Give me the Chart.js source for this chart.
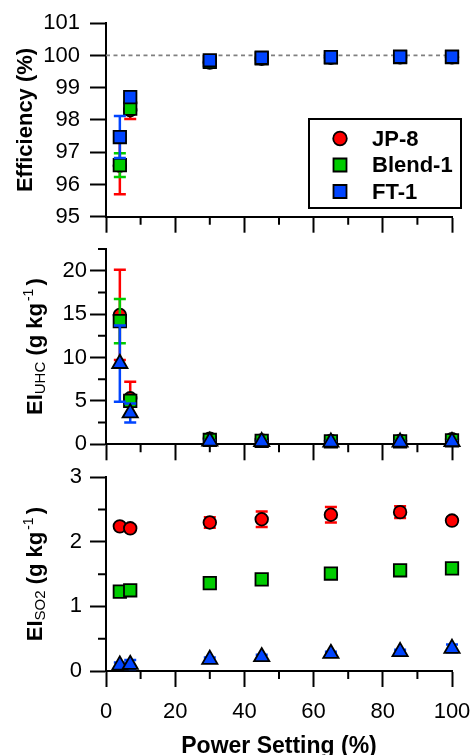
<!DOCTYPE html>
<html>
<head>
<meta charset="utf-8">
<script src="https://cdn.jsdelivr.net/npm/chart.js@4.4.0/dist/chart.umd.min.js"></script>
<style>
    html, body { margin: 0; padding: 0; background: #fff; }
    #wrap { position: relative; width: 473px; height: 755px; overflow: hidden; }
    .panel { position: absolute; left: 0; top: 0; width: 473px; height: 755px; }
</style>
</head>
<body>
<div id="wrap">
    <div class="panel"><canvas id="effChart"></canvas></div>
    <div class="panel"><canvas id="uhcChart"></canvas></div>
    <div class="panel"><canvas id="so2Chart"></canvas></div>
</div>
<script>
const FONT = '"Liberation Sans", Arial, Helvetica, sans-serif';

const powerSetting = [4, 7, 30, 45, 65, 85, 100];
const fuelNames = ["JP-8", "Blend-1", "FT-1"];
const fuelColors = ["#ff0000", "#00cc00", "#0044ff"];

// combustion efficiency (%)
const effJP8 = [96.58, 98.3, 99.78, 99.9, 99.93, 99.94, 99.94];
const effJP8Err = [0.88, 0.27, 0.03, 0.02, 0.02, 0.02, 0.02];
const effBlend = [96.6, 98.35, 99.8, 99.91, 99.94, 99.95, 99.95];
const effBlendErr = [0.37, 0.1, 0.03, 0.02, 0.02, 0.02, 0.02];
const effFT = [97.47, 98.71, 99.85, 99.93, 99.95, 99.96, 99.96];
const effFTErr = [0.65, 0.12, 0.03, 0.02, 0.02, 0.02, 0.02];
const effRefX = [0, 100];
const effRefY = [100, 100];

// EI UHC (g/kg)
const uhcJP8 = [14.9, 5.3, 0.65, 0.45, 0.4, 0.4, 0.6];
const uhcJP8Err = [5.2, 1.9, 0.1, 0.08, 0.08, 0.08, 0.1];
const uhcBlend = [14.2, 5.0, 0.5, 0.4, 0.35, 0.35, 0.45];
const uhcBlendErr = [2.55, 0.4, 0.08, 0.06, 0.06, 0.06, 0.08];
const uhcFT = [9.3, 3.6, 0.35, 0.3, 0.25, 0.25, 0.3];
const uhcFTErr = [4.4, 1.1, 0.06, 0.05, 0.05, 0.05, 0.06];

// EI SO2 (g/kg)
const so2JP8 = [2.24, 2.21, 2.3, 2.35, 2.42, 2.46, 2.33];
const so2JP8Err = [0.04, 0.05, 0.08, 0.12, 0.12, 0.09, 0.05];
const so2Blend = [1.23, 1.25, 1.36, 1.42, 1.51, 1.56, 1.59];
const so2BlendErr = [0.04, 0.03, 0.02, 0.02, 0.02, 0.02, 0.02];
const so2FT = [0.09, 0.1, 0.18, 0.22, 0.27, 0.3, 0.35];
const so2FTErr = [0.04, 0.07, 0.03, 0.03, 0.03, 0.03, 0.06];

// axis ticks
const xMajorStep = 20;
const xMinorTicks = [10, 30, 50, 70, 90];
const effMinorTicks = [];
const uhcMinorTicks = [2.5, 7.5, 12.5, 17.5, 22.5];
const so2MinorTicks = [0.5, 1.5, 2.5];

const BOLD = "bold 22px " + FONT;

function points(xs, ys) {
    return xs.map((x, i) => ({ x: x, y: ys[i] }));
}

function series(i, ys, errs, style, radius) {
    return {
        label: fuelNames[i],
        data: points(powerSetting, ys),
        errors: errs,
        errorColor: fuelColors[i],
        backgroundColor: fuelColors[i],
        borderColor: "#000",
        borderWidth: 1.8,
        pointStyle: style,
        pointRadius: radius,
        showLine: false,
        clip: false,
        order: 3 - i
    };
}

// error bars, drawn just before each dataset's markers
const errorBars = {
    id: "errorBars",
    beforeDatasetDraw(chart, args) {
        const ds = chart.data.datasets[args.index];
        if (!ds.errors) return;
        const ctx = chart.ctx;
        const x = chart.scales.x, y = chart.scales.y;
        ctx.save();
        ctx.strokeStyle = ds.errorColor;
        ctx.lineWidth = 2.5;
        ds.data.forEach((p, i) => {
            const e = ds.errors[i];
            const px = x.getPixelForValue(p.x);
            const top = y.getPixelForValue(p.y + e);
            const bot = y.getPixelForValue(p.y - e);
            ctx.beginPath();
            ctx.moveTo(px, top); ctx.lineTo(px, bot);
            ctx.moveTo(px - 6, top); ctx.lineTo(px + 6, top);
            ctx.moveTo(px - 6, bot); ctx.lineTo(px + 6, bot);
            ctx.stroke();
        });
        ctx.restore();
    }
};

function drawVerticalTitle(ctx, parts, x, yc) {
    ctx.save();
    const widths = parts.map(p => { ctx.font = p.font; return ctx.measureText(p.text).width + (p.gap || 0); });
    const total = widths.reduce((a, b) => a + b, 0);
    ctx.translate(x, yc);
    ctx.rotate(-Math.PI / 2);
    ctx.fillStyle = "#000";
    ctx.textBaseline = "alphabetic";
    ctx.textAlign = "left";
    let cx = -total / 2;
    parts.forEach((p, i) => {
        ctx.font = p.font;
        ctx.fillText(p.text, cx + (p.gap || 0), p.dy || 0);
        cx += widths[i];
    });
    ctx.restore();
}

function makeChart(id, cfg) {
    const decorations = {
        id: "decorations",
        beforeDatasetsDraw(chart) {
            const ctx = chart.ctx;
            const x = chart.scales.x, y = chart.scales.y;
            const area = chart.chartArea;
            ctx.save();
            ctx.strokeStyle = "#000";
            ctx.lineWidth = 2;
            ctx.beginPath();
            xMinorTicks.forEach(v => {
                const px = x.getPixelForValue(v);
                ctx.moveTo(px, area.bottom); ctx.lineTo(px, area.bottom + 8);
            });
            cfg.yMinor.forEach(v => {
                const py = y.getPixelForValue(v);
                ctx.moveTo(area.left, py); ctx.lineTo(area.left - 8, py);
            });
            ctx.stroke();
            ctx.restore();
        },
        afterDraw(chart) {
            const ctx = chart.ctx;
            const area = chart.chartArea;
            drawVerticalTitle(ctx, cfg.yTitle, cfg.yTitleX, (area.top + area.bottom) / 2);
            if (cfg.xTitle) {
                ctx.save();
                ctx.font = "bold 23px " + FONT;
                ctx.fillStyle = "#000";
                ctx.textAlign = "center";
                ctx.textBaseline = "alphabetic";
                ctx.fillText(cfg.xTitle, (area.left + area.right) / 2, chart.height - 2);
                ctx.restore();
            }
            if (cfg.legend) {
                ctx.save();
                ctx.strokeStyle = "#000";
                ctx.lineWidth = 2;
                ctx.strokeRect(309, 119, 152, 89);
                const rows = [138.5, 165, 191.5];
                chart.data.datasets.filter(d => d.errors).forEach(d => {
                    const i = fuelNames.indexOf(d.label);
                    ctx.fillStyle = d.backgroundColor;
                    ctx.strokeStyle = "#000";
                    ctx.lineWidth = d.borderWidth;
                    Chart.helpers.drawPoint(ctx, {
                        pointStyle: d.pointStyle,
                        radius: d.pointStyle === "circle" ? 6.8 : 9.2,
                        borderWidth: d.borderWidth,
                        rotation: 0
                    }, 340, rows[i]);
                    ctx.fillStyle = "#000";
                    ctx.font = BOLD;
                    ctx.textAlign = "left";
                    ctx.textBaseline = "middle";
                    ctx.fillText(d.label, 372, rows[i] + 1);
                });
                ctx.restore();
            }
        }
    };

    return new Chart(document.getElementById(id).getContext("2d"), {
        type: "scatter",
        data: { datasets: cfg.datasets },
        options: {
            responsive: true,
            maintainAspectRatio: false,
            animation: false,
            events: [],
            layout: { padding: { top: cfg.top, bottom: cfg.bottom, left: 0, right: 21 } },
            plugins: { legend: { display: false }, tooltip: { enabled: false } },
            scales: {
                x: {
                    type: "linear",
                    min: 0,
                    max: 100,
                    afterFit: s => {
                        s.height = cfg.xHeight;
                        s.paddingLeft = 0;
                        s.paddingRight = 0;
                    },
                    ticks: {
                        display: cfg.xLabels,
                        stepSize: xMajorStep,
                        color: "#000",
                        padding: 12,
                        maxRotation: 0,
                        font: { family: FONT, size: 22 }
                    },
                    grid: { drawOnChartArea: false, tickLength: 16, tickWidth: 2, tickColor: "#000" },
                    border: { color: "#000", width: 2 }
                },
                y: {
                    type: "linear",
                    min: cfg.yMin,
                    max: cfg.yMax,
                    afterFit: s => { s.width = 106; },
                    ticks: {
                        stepSize: cfg.yStep,
                        includeBounds: false,
                        color: "#000",
                        padding: cfg.yPad,
                        font: { family: FONT, size: 22 }
                    },
                    grid: { drawOnChartArea: false, tickLength: 16, tickWidth: 2, tickColor: "#000" },
                    border: { color: "#000", width: 2 }
                }
            }
        },
        plugins: [errorBars, decorations]
    });
}

makeChart("effChart", {
    top: 22.7, bottom: 522.3, xHeight: 16, xLabels: false,
    yMin: 95, yMax: 101, yStep: 1, yPad: 10, yMinor: effMinorTicks,
    yTitle: [{ text: "Efficiency (%)", font: BOLD }],
    yTitleX: 32,
    legend: true,
    datasets: [
        series(0, effJP8, effJP8Err, "circle", 6.3),
        series(1, effBlend, effBlendErr, "rect", 8.8),
        series(2, effFT, effFTErr, "rect", 8.8),
        {
            type: "line",
            data: points(effRefX, effRefY),
            borderColor: "#808080",
            borderWidth: 1.8,
            borderDash: [4, 3.5],
            pointRadius: 0,
            order: 10
        }
    ]
});

makeChart("uhcChart", {
    top: 249, bottom: 294.7, xHeight: 16, xLabels: false,
    yMin: 0, yMax: 22.5, yStep: 5, yPad: 3, yMinor: uhcMinorTicks,
    yTitle: [
        { text: "EI", font: BOLD },
        { text: "UHC", font: "15px " + FONT, dy: 3 },
        { text: " (g kg", font: BOLD },
        { text: "-1", font: "14px " + FONT, dy: -9, gap: 2 },
        { text: ")", font: BOLD, gap: 3 }
    ],
    yTitleX: 42,
    datasets: [
        series(0, uhcJP8, uhcJP8Err, "circle", 6.3),
        series(1, uhcBlend, uhcBlendErr, "rect", 8.8),
        series(2, uhcFT, uhcFTErr, "triangle", 8.8)
    ]
});

makeChart("so2Chart", {
    top: 477.3, bottom: 0, xHeight: 84, xLabels: true,
    yMin: 0, yMax: 3, yStep: 1, yPad: 8, yMinor: so2MinorTicks,
    yTitle: [
        { text: "EI", font: BOLD },
        { text: "SO2", font: "15px " + FONT, dy: 3 },
        { text: " (g kg", font: BOLD },
        { text: "-1", font: "14px " + FONT, dy: -9, gap: 2 },
        { text: ")", font: BOLD, gap: 3 }
    ],
    yTitleX: 42,
    xTitle: "Power Setting (%)",
    datasets: [
        series(0, so2JP8, so2JP8Err, "circle", 6.3),
        series(1, so2Blend, so2BlendErr, "rect", 8.8),
        series(2, so2FT, so2FTErr, "triangle", 8.8)
    ]
});
</script>
</body>
</html>
